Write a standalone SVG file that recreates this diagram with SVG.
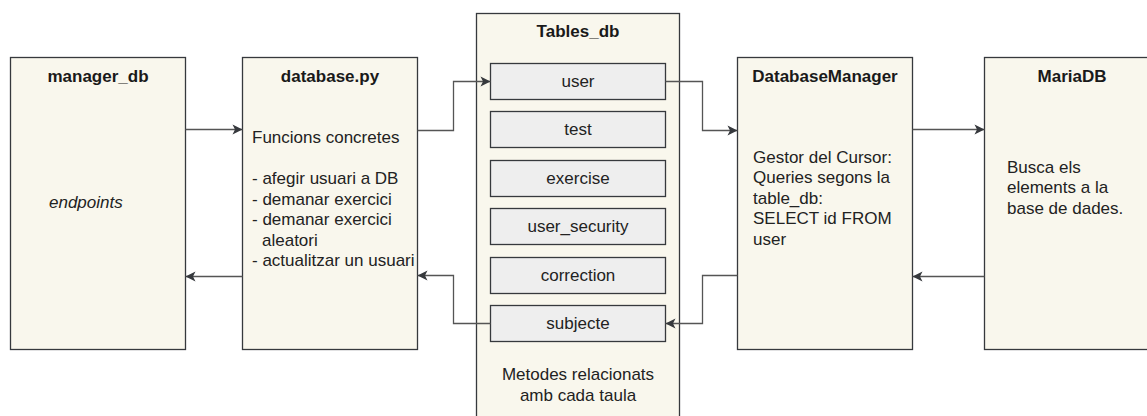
<svg xmlns="http://www.w3.org/2000/svg" width="1147" height="416" viewBox="0 0 1147 416">
  <style>
    .box { fill: #f9f7ed; stroke: #36393d; stroke-width: 1.3; }
    .cell { fill: #eeeeee; stroke: #36393d; stroke-width: 1.3; }
    .title { font-family: "Liberation Sans", Arial, sans-serif; font-size: 17px; font-weight: bold; fill: #1a1a1a; text-anchor: middle; }
    .txt { font-family: "Liberation Sans", Arial, sans-serif; font-size: 17px; fill: #222222; }
    .ctr { text-anchor: middle; }
    .edge { fill: none; stroke: #555555; stroke-width: 1.3; marker-end: url(#arrow); }
  </style>
  <defs>
    <marker id="arrow" markerUnits="userSpaceOnUse" markerWidth="14" markerHeight="14" viewBox="-12 -7 14 14" refX="0" refY="0" orient="auto">
      <path d="M0,0 L-10,-5 L-7.5,0 L-10,5 Z" fill="#36393d"/>
    </marker>
  </defs>

  <rect width="1147" height="416" fill="#ffffff"/>

  <g id="manager_db">
    <rect class="box" x="10.5" y="57.5" width="175" height="292"/>
    <text class="title" x="98" y="82">manager_db</text>
    <text class="txt" x="49" y="208" font-style="italic">endpoints</text>
  </g>

  <g id="database_py">
    <rect class="box" x="242.5" y="57.5" width="175" height="292"/>
    <text class="title" x="330" y="82">database.py</text>
    <text class="txt" x="252" y="143">Funcions concretes</text>
    <text class="txt" x="252" y="184">- afegir usuari a DB</text>
    <text class="txt" x="252" y="204.6">- demanar exercici</text>
    <text class="txt" x="252" y="225.2">- demanar exercici</text>
    <text class="txt" x="262" y="245.8">aleatori</text>
    <text class="txt" x="252" y="266.4">- actualitzar un usuari</text>
  </g>

  <g id="tables_db">
    <rect class="box" x="476.5" y="13.5" width="203" height="420"/>
    <text class="title" x="578" y="37">Tables_db</text>
    <text class="txt ctr" x="578" y="380">Metodes relacionats</text>
    <text class="txt ctr" x="578" y="401">amb cada taula</text>
  </g>

  <g id="table_user">
    <rect class="cell" x="490.5" y="63.5" width="175" height="36"/>
    <text class="txt ctr" x="578" y="87">user</text>
  </g>
  <g id="table_test">
    <rect class="cell" x="490.5" y="111.5" width="175" height="36"/>
    <text class="txt ctr" x="578" y="135">test</text>
  </g>
  <g id="table_exercise">
    <rect class="cell" x="490.5" y="160.5" width="175" height="36"/>
    <text class="txt ctr" x="578" y="184">exercise</text>
  </g>
  <g id="table_user_security">
    <rect class="cell" x="490.5" y="208.5" width="175" height="36"/>
    <text class="txt ctr" x="578" y="232">user_security</text>
  </g>
  <g id="table_correction">
    <rect class="cell" x="490.5" y="257.5" width="175" height="36"/>
    <text class="txt ctr" x="578" y="281">correction</text>
  </g>
  <g id="table_subjecte">
    <rect class="cell" x="490.5" y="305.5" width="175" height="36"/>
    <text class="txt ctr" x="578" y="329">subjecte</text>
  </g>

  <g id="database_manager">
    <rect class="box" x="737.5" y="57.5" width="175" height="292"/>
    <text class="title" x="825" y="82">DatabaseManager</text>
    <text class="txt" x="753" y="162.5">Gestor del Cursor:</text>
    <text class="txt" x="753" y="183.1">Queries segons la</text>
    <text class="txt" x="753" y="203.7">table_db:</text>
    <text class="txt" x="753" y="224.3">SELECT id FROM</text>
    <text class="txt" x="753" y="244.9">user</text>
  </g>

  <g id="mariadb">
    <rect class="box" x="984.5" y="57.5" width="175" height="292"/>
    <text class="title" x="1072" y="82">MariaDB</text>
    <text class="txt" x="1007" y="172.7">Busca els</text>
    <text class="txt" x="1007" y="193.3">elements a la</text>
    <text class="txt" x="1007" y="213.9">base de dades.</text>
  </g>

  <g id="connectors">
    <path class="edge" d="M185.5,129.5 L242.5,129.5"/>
    <path class="edge" d="M242.5,276.5 L185.5,276.5"/>
    <path class="edge" d="M417.5,130.5 L453.5,130.5 L453.5,81.5 L490.5,81.5"/>
    <path class="edge" d="M665.5,81.5 L702.5,81.5 L702.5,130.5 L737.5,130.5"/>
    <path class="edge" d="M912.5,129.5 L984.5,129.5"/>
    <path class="edge" d="M984.5,276.5 L912.5,276.5"/>
    <path class="edge" d="M737.5,275.5 L702.5,275.5 L702.5,323.5 L665.5,323.5"/>
    <path class="edge" d="M490.5,323.5 L453.5,323.5 L453.5,275.5 L417.5,275.5"/>
  </g>
</svg>
